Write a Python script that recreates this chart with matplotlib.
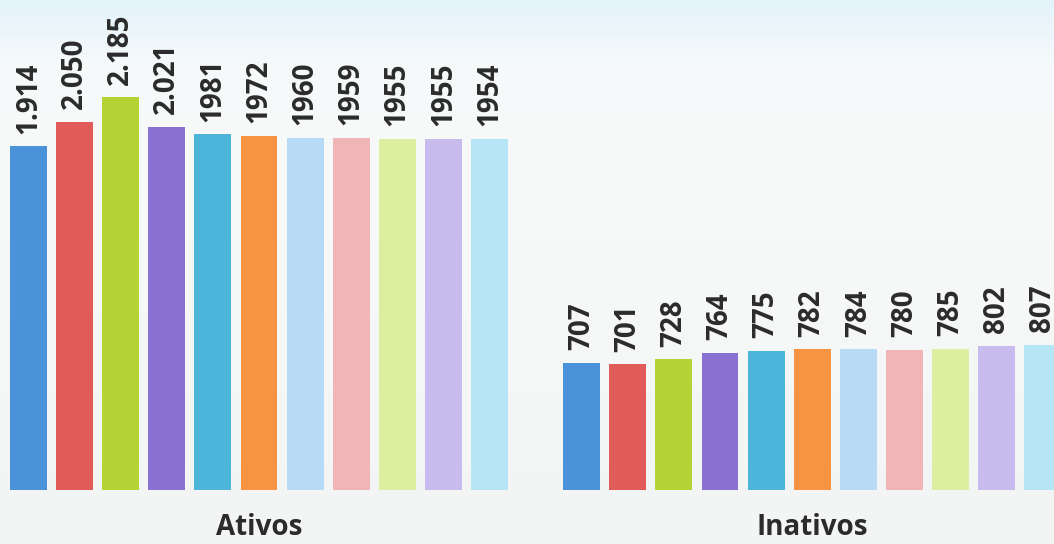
import matplotlib
matplotlib.use("Agg")
import matplotlib.pyplot as plt
import numpy as np
from matplotlib.colors import LinearSegmentedColormap

# Data
groups = ["Ativos", "Inativos"]
ativos_values = [1914, 2050, 2185, 2021, 1981, 1972, 1960, 1959, 1955, 1955, 1954]
ativos_labels = ["1.914", "2.050", "2.185", "2.021", "1981", "1972", "1960", "1959", "1955", "1955", "1954"]
inativos_values = [707, 701, 728, 764, 775, 782, 784, 780, 785, 802, 807]
inativos_labels = ["707", "701", "728", "764", "775", "782", "784", "780", "785", "802", "807"]
bar_colors = ["#4a92da", "#e15c58", "#b6d235", "#8a70d0", "#4bb6da", "#f79443",
              "#b7dbf6", "#f0b5b7", "#dcee9f", "#c8bcee", "#b6e6f6"]

plt.rcParams['font.family'] = ['Open Sans', 'DejaVu Sans']

fig = plt.figure(figsize=(10.54, 5.44), dpi=100)
fig.patch.set_facecolor("#f5f6f6")

# background gradient (light blue tint at top)
bg = fig.add_axes([0, 0, 1, 1], zorder=0)
bg.axis("off")
grad = np.linspace(0, 1, 256).reshape(-1, 1)
cmap = LinearSegmentedColormap.from_list("bgc", [(0, "#e4f3fa"), (0.12, "#f6fafb"), (0.3, "#f8f9f9"), (1, "#f3f4f4")])
bg.imshow(grad, aspect="auto", cmap=cmap, extent=[0, 1, 0, 1], origin="upper")
bg.set_xlim(0, 1)
bg.set_ylim(0, 1)

ax = fig.add_axes([0, 0, 1, 1], zorder=1)
ax.patch.set_alpha(0)

n = len(ativos_values)
x_a = np.arange(n)
x_i = np.arange(n) + 12

ax.bar(x_a, ativos_values, width=0.8, color=bar_colors)
ax.bar(x_i, inativos_values, width=0.8, color=bar_colors)

for xs, vals, labs in [(x_a, ativos_values, ativos_labels), (x_i, inativos_values, inativos_labels)]:
    for x, v, l in zip(xs, vals, labs):
        ax.annotate(l, (x, v), xytext=(0, 9), textcoords="offset points",
                    rotation=90, ha="center", va="bottom", fontsize=20,
                    fontweight="bold", color="#2b2b2b")

for cx, name in zip([x_a.mean(), x_i.mean()], groups):
    ax.text(cx, -208, name, ha="center", va="center", fontsize=20,
            fontweight="bold", color="#2b2b2b")

ax.set_xlim(-0.618, 22.245)
ax.set_ylim(-300.5, 2727)
ax.axis("off")

fig.savefig("out.png", dpi=100, facecolor=fig.get_facecolor())
